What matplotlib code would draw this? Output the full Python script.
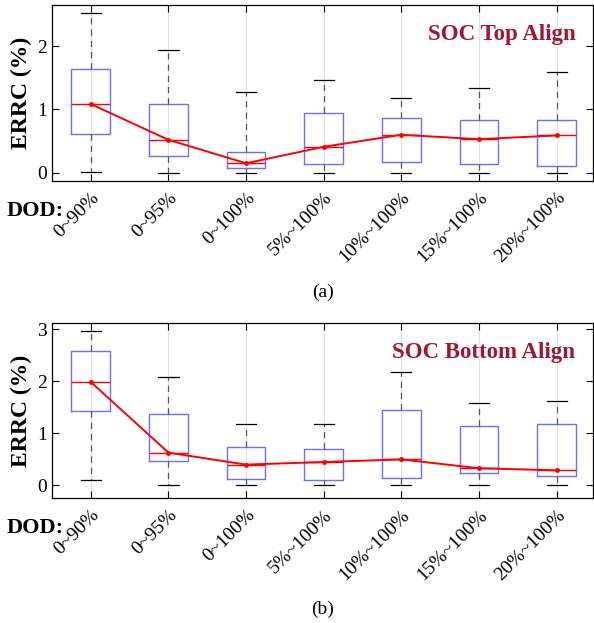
import numpy as np
import matplotlib
matplotlib.use("Agg")
import matplotlib.pyplot as plt

plt.rcParams["font.family"] = ["Liberation Serif", "DejaVu Serif"]

labels = ["0~90%", "0~95%", "0~100%", "5%~100%", "10%~100%", "15%~100%", "20%~100%"]

# panel (a): SOC Top Align
top_whislo = [0.01, 0.0, 0.0, 0.0, 0.0, 0.0, 0.0]
top_q1 = [0.61, 0.27, 0.07, 0.14, 0.17, 0.14, 0.11]
top_med = [1.085, 0.52, 0.15, 0.41, 0.60, 0.53, 0.59]
top_q3 = [1.64, 1.09, 0.33, 0.95, 0.87, 0.83, 0.83]
top_whishi = [2.52, 1.94, 1.27, 1.46, 1.18, 1.34, 1.59]

# panel (b): SOC Bottom Align
bot_whislo = [0.10, 0.0, 0.0, 0.0, 0.0, 0.0, 0.0]
bot_q1 = [1.43, 0.47, 0.12, 0.10, 0.15, 0.23, 0.18]
bot_med = [1.99, 0.63, 0.40, 0.45, 0.50, 0.33, 0.29]
bot_q3 = [2.58, 1.37, 0.73, 0.70, 1.46, 1.15, 1.19]
bot_whishi = [2.97, 2.09, 1.19, 1.18, 2.18, 1.58, 1.62]


def draw_panel(ax, whislo, q1, med, q3, whishi, title, ylim, yticks, tag):
    stats = []
    for i in range(len(labels)):
        stats.append(dict(whislo=whislo[i], q1=q1[i], med=med[i],
                          q3=q3[i], whishi=whishi[i], fliers=[]))
    pos = np.arange(1, len(labels) + 1)
    ax.bxp(stats, positions=pos, widths=0.5, capwidths=0.26,
           showfliers=False,
           boxprops=dict(color="#6f6fff", lw=1.0),
           medianprops=dict(color="red", lw=1.0),
           whiskerprops=dict(color="#555555", lw=0.9, ls=(0, (5, 4))),
           capprops=dict(color="black", lw=0.9))
    ax.plot(pos, med, color="red", lw=1.4, marker="o", ms=2.5, zorder=5)

    ax.set_xlim(0.5, 7.47)
    ax.set_ylim(*ylim)
    ax.set_yticks(yticks)
    ax.set_xticks(pos)
    ax.set_xticklabels(labels, rotation=45, ha="right",
                       rotation_mode="anchor", fontsize=13)
    ax.tick_params(axis="both", direction="in", top=True, right=True,
                   length=5, labelsize=14, width=0.8)
    ax.tick_params(axis="x", pad=6)
    ax.xaxis.grid(True, color="#e0e0e0", lw=0.8)
    ax.set_axisbelow(True)
    for s in ax.spines.values():
        s.set_linewidth(0.9)
    ax.set_ylabel("ERRC (%)", fontsize=17, fontweight="bold", labelpad=4)
    ax.text(0.967, 0.83, title, transform=ax.transAxes, ha="right",
            va="center", fontsize=16.5, fontweight="bold", color="#a0182f")
    ax.text(-0.083, -0.17, "DOD:", transform=ax.transAxes, ha="left",
            va="center", fontsize=16, fontweight="bold")
    ax.text(0.5, -0.63, tag, transform=ax.transAxes, ha="center",
            va="center", fontsize=14)


fig = plt.figure(figsize=(5.94, 6.23), dpi=100)
ax1 = fig.add_axes([0.0875, 0.7095, 0.911, 0.2825])
ax2 = fig.add_axes([0.0875, 0.200, 0.911, 0.282])

draw_panel(ax1, top_whislo, top_q1, top_med, top_q3, top_whishi,
           "SOC Top Align", (-0.13, 2.65), [0, 1, 2], "(a)")
draw_panel(ax2, bot_whislo, bot_q1, bot_med, bot_q3, bot_whishi,
           "SOC Bottom Align", (-0.25, 3.13), [0, 1, 2, 3], "(b)")

fig.savefig("out.png", dpi=100)
